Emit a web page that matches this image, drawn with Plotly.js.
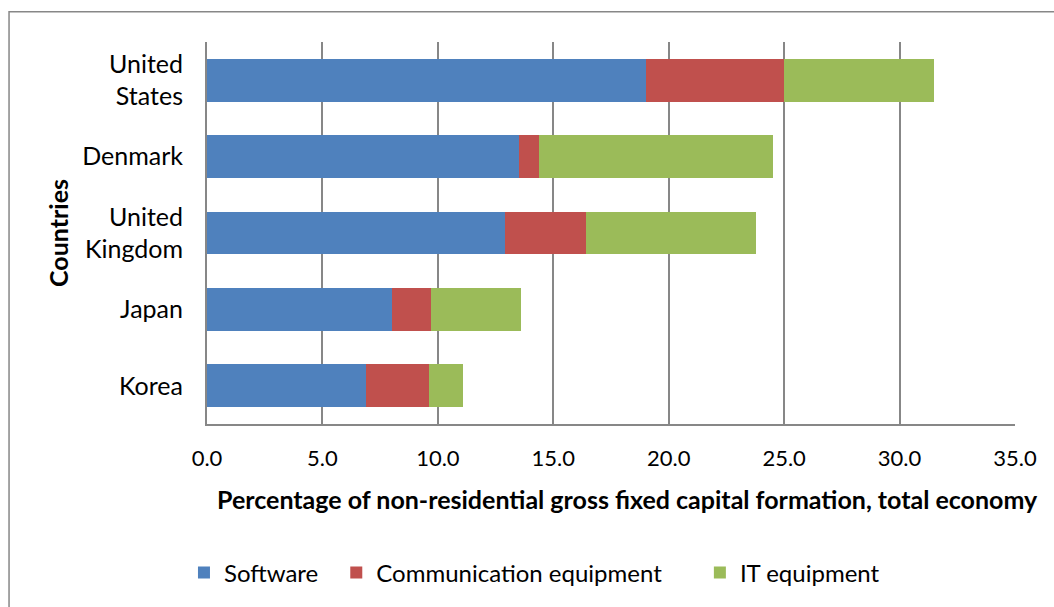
<!DOCTYPE html>
<html>
<head>
<meta charset="utf-8">
<script src="https://cdn.plot.ly/plotly-3.0.1.min.js"></script>
<style>
  html, body { margin: 0; padding: 0; background: #ffffff; }
  #chart { width: 1054px; height: 607px; }
</style>
</head>
<body>
<div id="chart"></div>
<script>
// ICT investment by asset, share of non-residential GFCF
const countries = ["United<br>States", "Denmark", "United<br>Kingdom", "Japan", "Korea"];
const software = [19.0, 13.5, 12.9, 8.0, 6.9];
const communication = [6.0, 0.9, 3.5, 1.7, 2.7];
const itEquipment = [6.5, 10.1, 7.4, 3.9, 1.5];
const xTicks = [0, 5, 10, 15, 20, 25, 30, 35];
const xTickLabels = ["0.0", "5.0", "10.0", "15.0", "20.0", "25.0", "30.0", "35.0"];
const xTitle = "Percentage of non-residential gross fixed capital formation, total economy";
const yTitle = "Countries";

const FONT = "Lato, 'Open Sans', sans-serif";
const GRID = "#878787";

function series(name, values, color, legendId) {
  return {
    type: "bar",
    orientation: "h",
    name: name,
    x: values,
    y: countries,
    legend: legendId,
    marker: { color: color, line: { width: 0 } },
    hoverinfo: "x+name"
  };
}

const data = [
  series("Software", software, "#4F81BD", "legend"),
  series("Communication equipment", communication, "#C0504D", "legend2"),
  series("IT equipment", itEquipment, "#9BBB59", "legend3")
];

function legendAt(x) {
  return {
    orientation: "h",
    x: x, xanchor: "left",
    y: -0.39, yanchor: "middle",
    bgcolor: "rgba(0,0,0,0)",
    borderwidth: 0,
    itemwidth: 30,
    font: { family: FONT, size: 24, color: "#000000" }
  };
}

const layout = {
  width: 1054,
  height: 607,
  margin: { l: 207, r: 39, t: 42, b: 183 },
  paper_bgcolor: "#ffffff",
  plot_bgcolor: "#ffffff",
  barmode: "stack",
  bargap: 0.44,
  font: { family: FONT, color: "#000000" },
  xaxis: {
    range: [0, 35],
    tickvals: xTicks,
    ticktext: xTickLabels,
    showgrid: true,
    gridcolor: GRID,
    gridwidth: 2,
    zeroline: false,
    showline: true,
    linecolor: GRID,
    linewidth: 2,
    ticks: "",
    ticklabelstandoff: 14,
    tickfont: { family: FONT, size: 22, color: "#000000" },
    fixedrange: true
  },
  yaxis: {
    autorange: "reversed",
    showgrid: false,
    zeroline: false,
    showline: true,
    linecolor: GRID,
    linewidth: 2,
    ticks: "",
    ticklabelstandoff: 17,
    tickfont: { family: FONT, size: 25, color: "#000000" },
    title: {
      text: "<b>" + yTitle + "</b>",
      font: { family: FONT, size: 25, color: "#000000" },
      standoff: 6
    },
    fixedrange: true
  },
  legend: legendAt(-0.0285),
  legend2: legendAt(0.16),
  legend3: legendAt(0.61),
  annotations: [
    {
      // value-axis title, centred a little right of the plot centre
      text: "<b>" + xTitle + "</b>",
      xref: "paper", yref: "paper",
      x: 0.52, xanchor: "center",
      y: -0.196, yanchor: "middle",
      showarrow: false,
      font: { family: FONT, size: 25, color: "#000000" }
    }
  ],
  shapes: [
    {
      type: "rect",
      xref: "paper", yref: "paper",
      x0: -0.245, x1: 1.06,
      y0: -0.55, y1: 1.079,
      line: { color: "#878787", width: 1.5 },
      fillcolor: "rgba(0,0,0,0)",
      layer: "below"
    }
  ],
  showlegend: true
};

Plotly.newPlot("chart", data, layout, { displayModeBar: false, staticPlot: true });
</script>
</body>
</html>
